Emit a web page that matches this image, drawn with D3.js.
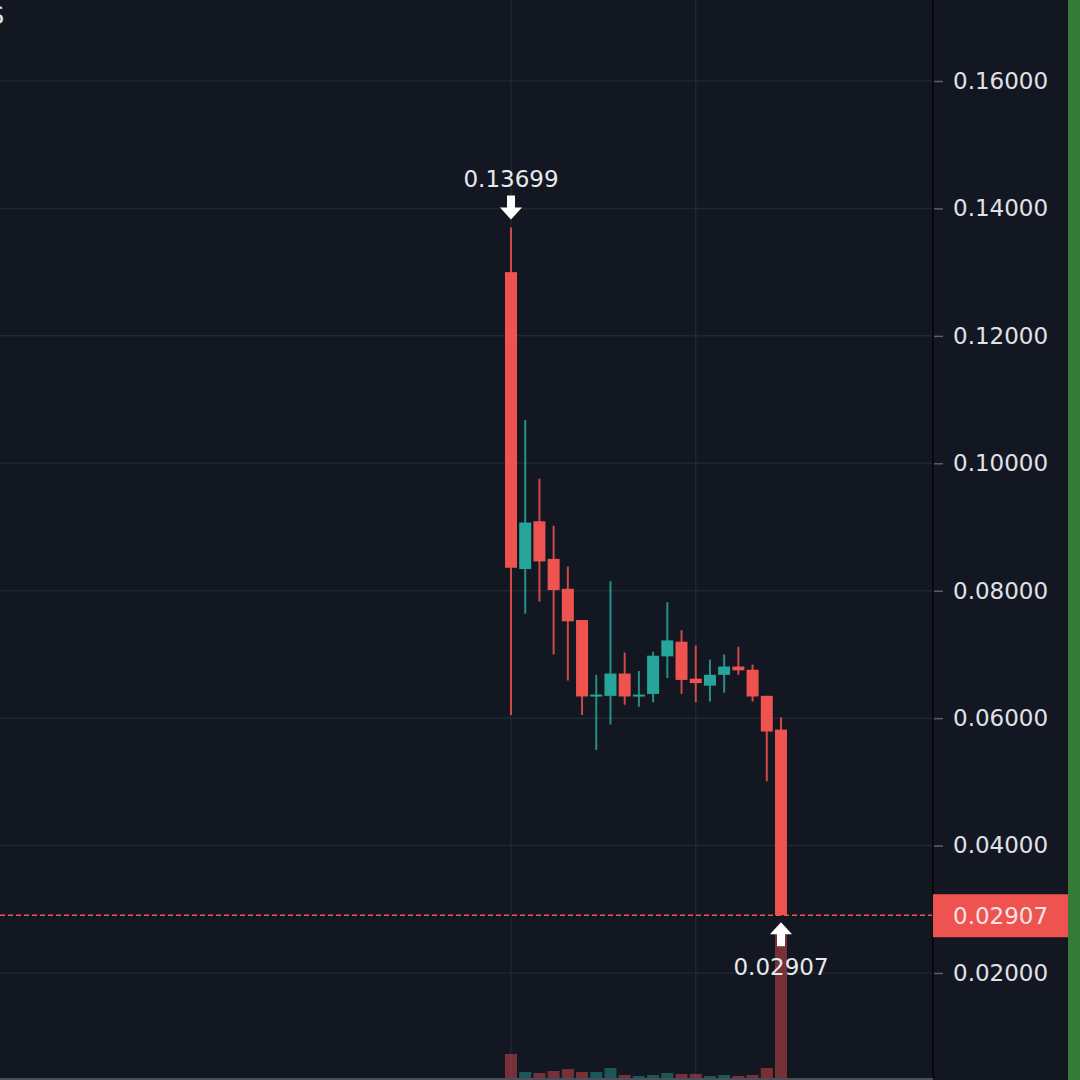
<!DOCTYPE html>
<html>
<head>
<meta charset="utf-8">
<script src="https://cdn.jsdelivr.net/npm/d3@7/dist/d3.min.js"></script>
<style>
  html, body { margin: 0; padding: 0; background: #131722; }
  svg { display: block; font-family: "DejaVu Sans", sans-serif; }
</style>
</head>
<body>
<svg id="chart" width="1080" height="1080"></svg>
<script>
// candle data
const opens  = [0.1300, 0.0834, 0.0909, 0.0850, 0.0803, 0.0754, 0.0635, 0.0635, 0.0670, 0.0634, 0.0638, 0.0697, 0.0720, 0.0662, 0.0651, 0.0668, 0.0681, 0.0676, 0.0635, 0.0582];
const highs  = [0.13699, 0.1068, 0.0976, 0.0902, 0.0838, 0.0754, 0.0668, 0.0815, 0.0703, 0.0674, 0.0704, 0.0782, 0.0738, 0.0714, 0.0692, 0.0700, 0.0712, 0.0684, 0.0635, 0.0601];
const lows   = [0.0605, 0.0764, 0.0783, 0.0700, 0.0659, 0.0605, 0.0550, 0.0590, 0.0621, 0.0618, 0.0625, 0.0663, 0.0638, 0.0625, 0.0626, 0.0640, 0.0668, 0.0626, 0.0501, 0.02907];
const closes = [0.0836, 0.0907, 0.0846, 0.0801, 0.0752, 0.0634, 0.0637, 0.0670, 0.0634, 0.0637, 0.0698, 0.0722, 0.0660, 0.0655, 0.0668, 0.0681, 0.0675, 0.0634, 0.0579, 0.02907];
const volumes = [24, 6, 5, 7, 9, 6, 6, 10, 3, 2, 3, 5, 4, 4, 2, 3, 2, 3, 10, 148];
const priceTicks = [0.02, 0.04, 0.06, 0.08, 0.10, 0.12, 0.14, 0.16];
const lastPrice = 0.02907;
const highLabel = "0.13699";
const lowLabel = "0.02907";

const W = 1080, H = 1080;
const axisX = 933;
const up = "#26a69a", down = "#ef5350";

const svg = d3.select("#chart");

const y = d3.scaleLinear().domain([0.02, 0.16]).range([973, 81]);
const x = d3.scaleLinear().domain([0, opens.length - 1]).range([511, 781]);
const yVol = d3.scaleLinear().domain([0, d3.max(volumes)]).range([1078, 930]);
const candleW = 12;

svg.append("rect").attr("width", W).attr("height", H).attr("fill", "#131722");

// grid
svg.append("g").selectAll("line").data(priceTicks).join("line")
  .attr("x1", 0).attr("x2", axisX)
  .attr("y1", d => y(d)).attr("y2", d => y(d))
  .attr("stroke", "#22262f").attr("stroke-width", 1.5);
svg.append("g").selectAll("line").data([0, 13]).join("line")
  .attr("x1", d => x(d)).attr("x2", d => x(d))
  .attr("y1", 0).attr("y2", 1078)
  .attr("stroke", "#22262f").attr("stroke-width", 1.5);

// volume
const idx = d3.range(opens.length);
const isUp = i => closes[i] >= opens[i];
svg.append("g").selectAll("rect").data(idx).join("rect")
  .attr("x", i => x(i) - candleW / 2)
  .attr("width", candleW)
  .attr("y", i => yVol(volumes[i]))
  .attr("height", i => yVol(0) - yVol(volumes[i]))
  .attr("fill", i => isUp(i) ? up : down)
  .attr("opacity", 0.45);

// last price line
svg.append("line")
  .attr("x1", 0).attr("x2", axisX)
  .attr("y1", y(lastPrice)).attr("y2", y(lastPrice))
  .attr("stroke", down).attr("stroke-width", 1.5)
  .attr("stroke-dasharray", "5,3");

// candles
const candles = svg.append("g").selectAll("g").data(idx).join("g");
candles.append("line")
  .attr("x1", i => x(i)).attr("x2", i => x(i))
  .attr("y1", i => y(highs[i])).attr("y2", i => y(lows[i]))
  .attr("stroke", i => isUp(i) ? up : down)
  .attr("stroke-width", 2).attr("opacity", 0.85);
candles.append("rect")
  .attr("x", i => x(i) - candleW / 2)
  .attr("width", candleW)
  .attr("y", i => y(Math.max(opens[i], closes[i])))
  .attr("height", i => Math.max(2, Math.abs(y(opens[i]) - y(closes[i]))))
  .attr("fill", i => isUp(i) ? up : down);

// high / low markers
const hiIdx = d3.maxIndex(highs), loIdx = d3.minIndex(lows);
function arrow(cx, tipY, dir) {
  // dir = 1 pointing down, -1 pointing up
  const p = [
    [cx, tipY],
    [cx - 11, tipY - dir * 12],
    [cx - 4, tipY - dir * 12],
    [cx - 4, tipY - dir * 24],
    [cx + 4, tipY - dir * 24],
    [cx + 4, tipY - dir * 12],
    [cx + 11, tipY - dir * 12]
  ];
  svg.append("path").attr("d", d3.line()(p) + "Z").attr("fill", "#ffffff");
}
arrow(x(hiIdx), y(highs[hiIdx]) - 8, 1);
svg.append("text").attr("x", x(hiIdx)).attr("y", 187)
  .attr("text-anchor", "middle").attr("font-size", 23).attr("fill", "#e8e9ec")
  .text(highLabel);
arrow(x(loIdx), y(lows[loIdx]) + 7, -1);
svg.append("text").attr("x", x(loIdx)).attr("y", 975)
  .attr("text-anchor", "middle").attr("font-size", 23).attr("fill", "#e8e9ec")
  .text(lowLabel);

// price axis
svg.append("rect").attr("x", axisX).attr("y", 0).attr("width", W - axisX).attr("height", H).attr("fill", "#131722");
const axis = svg.append("g").attr("transform", `translate(${axisX},0)`)
  .call(d3.axisRight(y).tickValues(priceTicks).tickFormat(d3.format(".5f")).tickSize(10).tickPadding(10));
axis.select(".domain").remove();
axis.selectAll(".tick line").attr("stroke", "#5d606b").attr("stroke-width", 1.5);
axis.selectAll(".tick text").attr("fill", "#e0e2e7").attr("font-size", 23)
  .attr("font-family", "DejaVu Sans, sans-serif");
svg.append("line").attr("x1", axisX).attr("x2", axisX).attr("y1", 0).attr("y2", H)
  .attr("stroke", "#06080c").attr("stroke-width", 2);

// last price tag
svg.append("rect").attr("x", axisX).attr("y", y(lastPrice) - 21)
  .attr("width", 135).attr("height", 43).attr("fill", down);
svg.append("text").attr("x", 953).attr("y", y(lastPrice) + 8.5)
  .attr("font-size", 23).attr("fill", "#fbe3e3").text(d3.format(".5f")(lastPrice));

// bottom border and right strip
svg.append("line").attr("x1", 0).attr("x2", axisX).attr("y1", 1079).attr("y2", 1079)
  .attr("stroke", "#4a4e58").attr("stroke-width", 2);
svg.append("rect").attr("x", 1068).attr("y", 0).attr("width", 12).attr("height", H).attr("fill", "#367c39");

// clipped title glyph at top-left
svg.append("text").attr("x", -11).attr("y", 24).attr("font-size", 24).attr("fill", "#e0e2e7").text("S");
</script>
</body>
</html>
